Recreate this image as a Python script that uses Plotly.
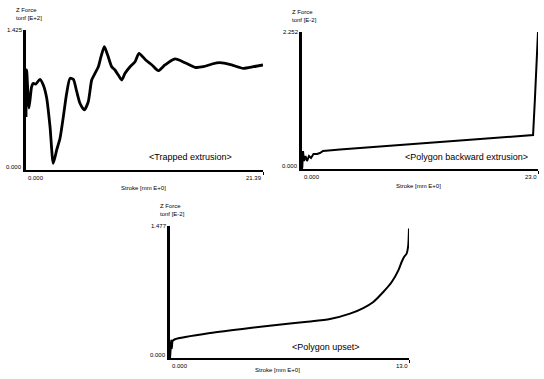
import plotly.graph_objects as go

W, H = 544, 379

# ---------------- data ----------------
# Panel 1: Trapped extrusion  (Stroke [mm], Z Force [tonf E+2])
trap_stroke = [0.0, 0.06, 0.27, 0.51, 0.66, 0.88, 1.26, 1.56, 1.87, 2.17, 2.46, 2.77, 3.07,
               3.37, 3.67, 3.97, 4.27, 4.58, 4.87, 5.26, 5.62, 5.93, 6.23, 6.53, 6.77, 7.07,
               7.37, 7.73, 8.03, 8.33, 8.64, 8.94, 9.39, 9.84, 10.20, 10.80, 11.37, 11.94,
               12.54, 13.45, 14.35, 15.25, 16.00, 16.79, 17.51, 18.56, 19.61, 20.51, 21.39]
trap_force = [0.539, 1.018, 0.631, 0.848, 0.882, 0.875, 0.923, 0.865, 0.730, 0.438, 0.068,
              0.204, 0.323, 0.543, 0.781, 0.933, 0.923, 0.797, 0.679, 0.611, 0.695, 0.916,
              0.984, 1.051, 1.153, 1.255, 1.170, 1.051, 1.018, 0.967, 0.916, 0.984, 1.051,
              1.102, 1.188, 1.120, 1.069, 1.011, 1.069, 1.130, 1.092, 1.045, 1.051, 1.079,
              1.092, 1.069, 1.035, 1.051, 1.069]

# Panel 2: Polygon backward extrusion (Stroke [mm], Z Force [tonf E-2])
back_stroke = [0.0, 0.03, 0.10, 0.19, 0.34, 0.49, 0.68, 0.88, 1.12, 1.46, 1.75, 2.05, 3.70,
               7.60, 12.47, 17.36, 22.52, 22.70, 22.90, 23.0]
back_force = [0.0, 0.033, 0.296, 0.131, 0.214, 0.131, 0.214, 0.181, 0.247, 0.247, 0.263,
              0.296, 0.320, 0.365, 0.431, 0.493, 0.559, 1.15, 1.81, 2.25]

# Panel 3: Polygon upset (Stroke [mm], Z Force [tonf E-2])
upset_stroke = [0.0, 0.03, 0.06, 0.10, 0.14, 0.27, 2.18, 4.35, 6.53, 7.62, 8.70, 9.79, 10.51,
                11.06, 11.60, 12.06, 12.42, 12.60, 12.73, 12.87, 12.96, 13.0]
upset_force = [0.0, 0.09, 0.20, 0.11, 0.19, 0.21, 0.28, 0.336, 0.386, 0.408, 0.436, 0.496,
               0.559, 0.627, 0.738, 0.850, 0.981, 1.074, 1.130, 1.167, 1.261, 1.45]

# axis extents and labels
x_max = [21.39, 23.0, 13.0]
y_max = [1.425, 2.252, 1.477]
x_max_labels = ["21.39", "23.0", "13.0"]
y_max_labels = ["1.425", "2.252", "1.477"]
zero_label = "0.000"
y_titles = ["tonf [E+2]", "tonf [E-2]", "tonf [E-2]"]
x_title = "Stroke [mm E+0]"
force_title = "Z Force"
captions = ["&lt;Trapped extrusion&gt;", "&lt;Polygon backward extrusion&gt;", "&lt;Polygon upset&gt;"]

# ---------------- layout geometry (pixels) ----------------
# (left, right, top, bottom) of each plot area
boxes = [(26, 263, 30, 170), (302, 538, 32, 169), (170, 409, 226, 358)]
caption_pos = [(190, 157), (466, 157), (326, 347)]
xtitle_pos = [(143, 188), (418, 186), (277, 370)]

def px(x):
    return x / W

def py(y):
    return 1 - y / H

fig = go.Figure()
series = [(trap_stroke, trap_force, 2.8, "spline"), (back_stroke, back_force, 2.0, "linear"),
          (upset_stroke, upset_force, 2.0, "spline")]
for i, (xs, ys, lw, shape) in enumerate(series):
    sfx = "" if i == 0 else str(i + 1)
    fig.add_trace(go.Scatter(x=xs, y=ys, mode="lines",
                             line=dict(color="black", width=lw, shape=shape, smoothing=0.6),
                             xaxis="x" + sfx, yaxis="y" + sfx, showlegend=False,
                             hoverinfo="skip", cliponaxis=False))

layout = dict(width=W, height=H, autosize=False, margin=dict(l=0, r=0, t=0, b=0),
              paper_bgcolor="white", plot_bgcolor="white", showlegend=False)
annotations = []
small = dict(family="Liberation Sans, Arial, sans-serif", size=6, color="black")
big = dict(family="Liberation Sans, Arial, sans-serif", size=9, color="black")

for i, (l, r, t, b) in enumerate(boxes):
    sfx = "" if i == 0 else str(i + 1)
    xa = "xaxis" + sfx
    ya = "yaxis" + sfx
    layout[xa] = dict(domain=[px(l), px(r)], range=[0, x_max[i]], anchor="y" + sfx,
                      showgrid=False, zeroline=False, showline=True, linecolor="black",
                      linewidth=2, showticklabels=False, ticks="outside", ticklen=3,
                      tickwidth=1, tickcolor="black", tickvals=[x_max[i]], fixedrange=True)
    layout[ya] = dict(domain=[py(b), py(t)], range=[0, y_max[i]], anchor="x" + sfx,
                      showgrid=False, zeroline=False, showline=True, linecolor="black",
                      linewidth=2.5, showticklabels=False, ticks="", fixedrange=True)
    xr, yr = "x" + sfx, "y" + sfx
    # y tick labels
    annotations.append(dict(text=y_max_labels[i], xref=xr + " domain", yref=yr, x=0, y=y_max[i],
                            xanchor="right", yanchor="middle", xshift=-1, showarrow=False, font=small))
    annotations.append(dict(text=zero_label, xref=xr + " domain", yref=yr, x=0, y=0,
                            xanchor="right", yanchor="bottom", xshift=-2, yshift=-2,
                            showarrow=False, font=small))
    # x tick labels
    annotations.append(dict(text=zero_label, xref=xr, yref=yr + " domain", x=0, y=0,
                            xanchor="left", yanchor="top", xshift=0, yshift=-3,
                            showarrow=False, font=small))
    annotations.append(dict(text=x_max_labels[i], xref=xr, yref=yr + " domain", x=x_max[i], y=0,
                            xanchor="right", yanchor="top", xshift=1, yshift=-3,
                            showarrow=False, font=small))
    # axis titles
    annotations.append(dict(text=force_title, xref="paper", yref="paper", x=px(l - 12), y=py(t - 20),
                            xanchor="left", yanchor="middle", showarrow=False, font=small))
    annotations.append(dict(text=y_titles[i], xref="paper", yref="paper", x=px(l - 12), y=py(t - 12),
                            xanchor="left", yanchor="middle", showarrow=False, font=small))
    annotations.append(dict(text=x_title, xref="paper", yref="paper", x=px(xtitle_pos[i][0]),
                            y=py(xtitle_pos[i][1]), xanchor="center", yanchor="middle",
                            showarrow=False, font=small))
    # caption
    annotations.append(dict(text=captions[i], xref="paper", yref="paper", x=px(caption_pos[i][0]),
                            y=py(caption_pos[i][1]), xanchor="center", yanchor="middle",
                            showarrow=False, font=big))

layout["annotations"] = annotations
fig.update_layout(**layout)
fig.write_html("out.html", config={"displayModeBar": False},
               post_script="document.body.style.margin='0';document.body.style.overflow='hidden';")
